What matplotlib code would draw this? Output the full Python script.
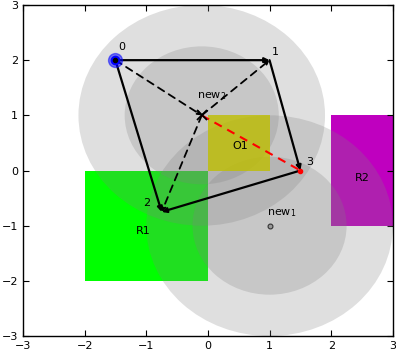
import matplotlib
matplotlib.use("Agg")
import matplotlib.pyplot as plt
from matplotlib.patches import Circle, Rectangle

# waypoints
pt_labels = ["0", "1", "2", "3"]
pt_x = [-1.5, 1.0, -0.75, 1.5]
pt_y = [2.0, 2.0, -0.75, 0.0]

# candidate new points
new_labels = ["new$_1$", "new$_2$"]
new_x = [1.0, -0.1]
new_y = [-1.0, 1.0]
r_outer = 2.0
r_inner = 1.25

# regions
rect_names = ["R1", "O1", "R2"]
rect_x = [-2.0, 0.0, 2.0]
rect_y = [-2.0, 0.0, -1.0]
rect_w = [2.0, 1.0, 1.0]
rect_h = [2.0, 1.0, 2.0]
rect_colors = [(0, 1, 0), (0.75, 0.75, 0), (0.75, 0, 0.75)]
rect_label_x = [-1.05, 0.53, 2.5]
rect_label_y = [-1.1, 0.45, -0.13]

solid_edges = [(0, 1), (1, 3), (3, 2), (0, 2)]
dashed_edges = [(0, "n"), ("n", 1), ("n", 2)]

fig = plt.figure(figsize=(3.96, 3.56), dpi=100)
ax = fig.add_axes([0.058, 0.056, 0.934, 0.930])
ax.set_xlim(-3, 3)
ax.set_ylim(-3, 3)

# rectangles under the circles (R1, R2), O1 on top
for i, name in enumerate(rect_names):
    z = 3 if name == "O1" else 1
    a = 0.8 if name == "O1" else 1.0
    ax.add_patch(Rectangle((rect_x[i], rect_y[i]), rect_w[i], rect_h[i],
                           facecolor=rect_colors[i], edgecolor="none", alpha=a, zorder=z))
    ax.text(rect_label_x[i], rect_label_y[i], name, ha="center", va="center",
            fontsize=8, zorder=6)

for cx, cy in zip(new_x, new_y):
    ax.add_patch(Circle((cx, cy), r_outer, facecolor="0.5", edgecolor="none",
                        alpha=0.25, zorder=2))
    ax.add_patch(Circle((cx, cy), r_inner, facecolor="0.5", edgecolor="none",
                        alpha=0.25, zorder=2))

nx2, ny2 = new_x[1], new_y[1]


def xy(k):
    if k == "n":
        return (nx2, ny2)
    return (pt_x[k], pt_y[k])


for a, b in solid_edges:
    ax.annotate("", xy=xy(b), xytext=xy(a), zorder=5,
                arrowprops=dict(arrowstyle="-|>", color="black", lw=1.6,
                                mutation_scale=7, shrinkA=0, shrinkB=0))
for a, b in dashed_edges:
    ax.annotate("", xy=xy(b), xytext=xy(a), zorder=5,
                arrowprops=dict(arrowstyle="-|>", color="black", lw=1.3,
                                linestyle=(0, (4, 3)), mutation_scale=6,
                                shrinkA=0, shrinkB=0))
ax.plot([nx2, pt_x[3]], [ny2, pt_y[3]], color="red", lw=1.5,
        dashes=(4, 3), zorder=5)

# markers
ax.plot(pt_x[0], pt_y[0], "o", color="blue", ms=10, alpha=0.5, zorder=6)
ax.plot(pt_x[0], pt_y[0], "o", color="blue", ms=6, zorder=6)
ax.plot(pt_x[0], pt_y[0], "o", color="black", ms=3, zorder=7)
ax.plot(pt_x[3], pt_y[3], "o", color="red", ms=3, zorder=7)
ax.plot(new_x[0], new_y[0], "o", mfc="0.6", mec="0.2", ms=3.5, mew=0.8, zorder=6)
ax.plot(nx2, ny2, "x", color="black", ms=7, mew=1.3, zorder=6)

pt_lx = [-1.39, 1.1, -0.99, 1.65]
pt_ly = [2.24, 2.15, -0.58, 0.15]
for i, lab in enumerate(pt_labels):
    ax.text(pt_lx[i], pt_ly[i], lab, ha="center", va="center", fontsize=8, zorder=6)
ax.text(1.2, -0.77, new_labels[0], ha="center", va="center", fontsize=8, zorder=6)
ax.text(0.06, 1.34, new_labels[1], ha="center", va="center", fontsize=8, zorder=6)

ax.set_xticks(range(-3, 4))
ax.set_yticks(range(-3, 4))
ax.tick_params(direction="in", top=True, right=True, labelsize=8, length=4)
for s in ax.spines.values():
    s.set_linewidth(1.0)

fig.savefig("out.png", dpi=100)
